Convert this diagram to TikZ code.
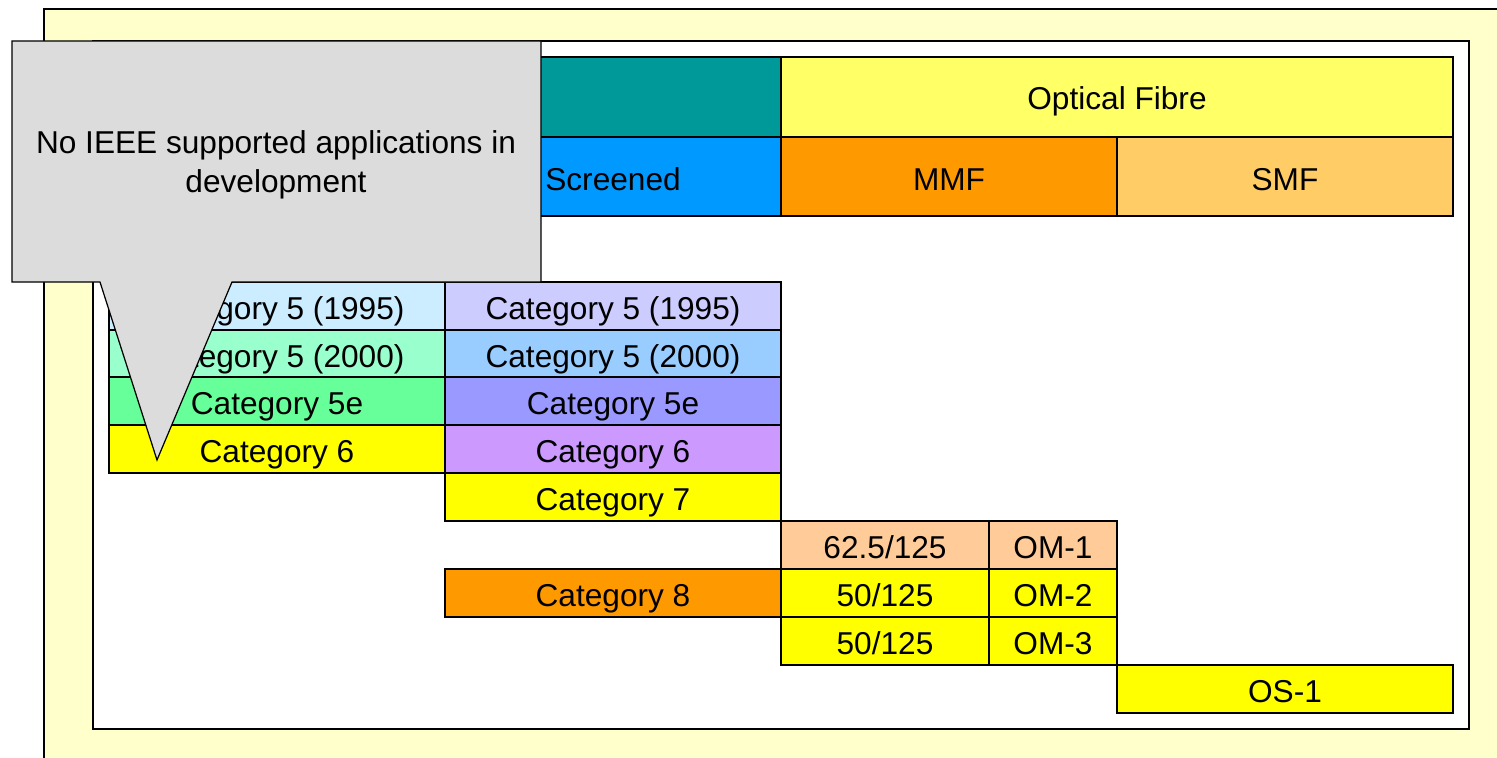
\documentclass[tikz,border=0pt]{standalone}
\usepackage{fontspec}
\setmainfont{Liberation Sans}
\definecolor{pagebg}{HTML}{FFFFCC}
\definecolor{copper}{HTML}{009999}
\definecolor{fibre}{HTML}{FFFF66}
\definecolor{scr}{HTML}{0099FF}
\definecolor{mmfc}{HTML}{FF9900}
\definecolor{smfc}{HTML}{FFCC66}
\definecolor{ua}{HTML}{CCECFF}
\definecolor{ub}{HTML}{99FFCC}
\definecolor{uc}{HTML}{66FF99}
\definecolor{sa}{HTML}{CCCCFF}
\definecolor{sb}{HTML}{99CCFF}
\definecolor{sc}{HTML}{9999FF}
\definecolor{sd}{HTML}{CC99FF}
\definecolor{omone}{HTML}{FFCC99}
\definecolor{pureyel}{HTML}{FFFF00}
\definecolor{callgray}{HTML}{DCDCDC}
\tikzset{
  cell/.style={draw=black, line width=0.7pt},
  lbl/.style={anchor=base, inner sep=0pt, font=\fontsize{18}{22}\selectfont}
}
\begin{document}
\begin{tikzpicture}[x=0.02cm, y=-0.02cm]
    \useasboundingbox (0,0) rectangle (1497,757);
    \clip (0,0) rectangle (1497,757);
    %% frames
    \draw[fill=pagebg, line width=0.9pt](44, 9) rectangle (1520, 780);
    \draw[fill=white, line width=0.9pt](93, 41) rectangle (1469, 729);

    %% header rows
    \draw[cell, fill=copper](109, 57) rectangle (781, 137);
    \draw[cell, fill=fibre](781, 57) rectangle (1453, 137);
        \node[lbl] (optfibre) at(1117, 110){Optical Fibre};
    \draw[cell, fill=scr](109, 137) rectangle (445, 216);
    \draw[cell, fill=scr](445, 137) rectangle (781, 216);
        \node[lbl] (screened) at(613, 190){Screened};
    \draw[cell, fill=mmfc](781, 137) rectangle (1117, 216);
        \node[lbl] (mmf) at(949, 190){MMF};
    \draw[cell, fill=smfc](1117, 137) rectangle (1453, 216);
        \node[lbl] (smf) at(1285, 190){SMF};

    %% unscreened column
    \draw[cell, fill=ua](109, 282) rectangle (445, 330);
        \node[lbl] (uone) at(277, 319){Category 5 (1995)};
    \draw[cell, fill=ub](109, 330) rectangle (445, 377);
        \node[lbl] (utwo) at(277, 367){Category 5 (2000)};
    \draw[cell, fill=uc](109, 377) rectangle (445, 425);
        \node[lbl] (uthree) at(277, 414){Category 5e};
    \draw[cell, fill=pureyel](109, 425) rectangle (445, 473);
        \node[lbl] (ufour) at(277, 462){Category 6};

    %% screened column
    \draw[cell, fill=sa](445, 282) rectangle (781, 330);
        \node[lbl] (sone) at(613, 319){Category 5 (1995)};
    \draw[cell, fill=sb](445, 330) rectangle (781, 377);
        \node[lbl] (stwo) at(613, 367){Category 5 (2000)};
    \draw[cell, fill=sc](445, 377) rectangle (781, 425);
        \node[lbl] (sthree) at(613, 414){Category 5e};
    \draw[cell, fill=sd](445, 425) rectangle (781, 473);
        \node[lbl] (sfour) at(613, 462){Category 6};
    \draw[cell, fill=pureyel](445, 473) rectangle (781, 521);
        \node[lbl] (sfive) at(613, 510){Category 7};
    \draw[cell, fill=mmfc](445, 569) rectangle (781, 617);
        \node[lbl] (ssix) at(613, 606){Category 8};

    %% fibre cells
    \draw[cell, fill=omone](781, 521) rectangle (989, 569);
        \node[lbl] (mone) at(885, 558){62.5/125};
    \draw[cell, fill=omone](989, 521) rectangle (1117, 569);
        \node[lbl] (omone) at(1053, 558){OM-1};
    \draw[cell, fill=pureyel](781, 569) rectangle (989, 617);
        \node[lbl] (mtwo) at(885, 606){50/125};
    \draw[cell, fill=pureyel](989, 569) rectangle (1117, 617);
        \node[lbl] (omtwo) at(1053, 606){OM-2};
    \draw[cell, fill=pureyel](781, 617) rectangle (989, 665);
        \node[lbl] (mthree) at(885, 654){50/125};
    \draw[cell, fill=pureyel](989, 617) rectangle (1117, 665);
        \node[lbl] (omthree) at(1053, 654){OM-3};
    \draw[cell, fill=pureyel](1117, 665) rectangle (1453, 713);
        \node[lbl] (osone) at(1285, 702){OS-1};

    %% callout
    \draw[cell, fill=callgray](12, 41) -- (541, 41) -- (541, 282) -- (232, 282)
        -- (157, 460) -- (100, 282) -- (12, 282) -- cycle;
    \node[align=center, inner sep=0pt, font=\fontsize{18}{22}\selectfont] (note) at(276, 165)
        {No IEEE supported applications in\\development};
\end{tikzpicture}
\end{document}
